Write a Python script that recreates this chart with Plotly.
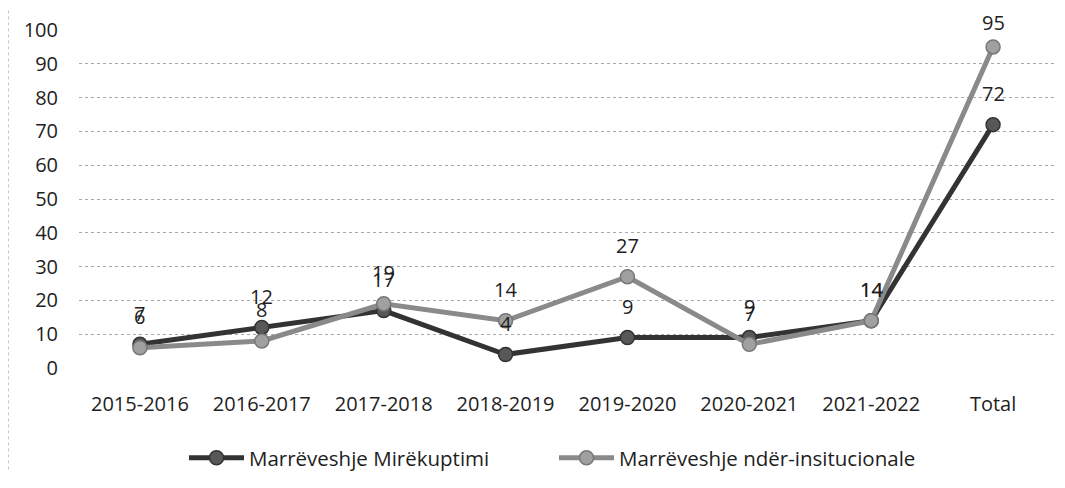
import plotly.graph_objects as go

categories = ["2015-2016", "2016-2017", "2017-2018", "2018-2019", "2019-2020", "2020-2021", "2021-2022", "Total"]
mirekuptimi = [7, 12, 17, 4, 9, 9, 14, 72]
nderinst = [6, 8, 19, 14, 27, 7, 14, 95]
y_ticks = [0, 10, 20, 30, 40, 50, 60, 70, 80, 90, 100]

FONT = "Open Sans"
TXT = "#1e1e1e"
dark = "#333333"
gray = "#8a8a8a"

# page has an 8px body margin: figure is drawn at (8, 8)
W, H = 1049, 472

fig = go.Figure()
fig.add_trace(go.Scatter(
    x=categories, y=mirekuptimi, name="Marrëveshje Mirëkuptimi",
    mode="lines+markers",
    line=dict(color=dark, width=5),
    marker=dict(size=14, color="#585858", line=dict(color=dark, width=1.5)),
))
fig.add_trace(go.Scatter(
    x=categories, y=nderinst, name="Marrëveshje ndër-insitucionale",
    mode="lines+markers",
    line=dict(color=gray, width=5),
    marker=dict(size=14, color="#a0a0a0", line=dict(color="#777777", width=1.5)),
))

annotations = []
for series in (mirekuptimi, nderinst):
    for c, v in zip(categories, series):
        shift = 31 if v < 90 else 24  # keep the top label inside the page
        annotations.append(dict(x=c, y=v, text=str(v), showarrow=False,
                                yshift=shift, font=dict(family=FONT, size=20, color=TXT)))

fig.update_layout(
    width=W, height=H,
    paper_bgcolor="white", plot_bgcolor="white",
    margin=dict(l=71, r=3, t=22, b=112),
    font=dict(family=FONT, size=20, color=TXT),
    showlegend=True,
    legend=dict(orientation="h", x=176 / W, xref="container", xanchor="left",
                y=22 / H, yref="container", yanchor="middle",
                font=dict(family=FONT, size=20.5, color=TXT),
                itemwidth=55, entrywidth=300, entrywidthmode="pixels"),
    annotations=annotations,
    shapes=[dict(type="line", xref="paper", yref="paper", x0=-70.5 / 975, x1=-70.5 / 975,
                 y0=-0.3, y1=1.06, line=dict(color="#c8c8c8", width=1, dash="dot"))],
    xaxis=dict(type="category", categoryorder="array", categoryarray=categories,
               showgrid=False, zeroline=False, showline=False, ticks="",
               tickfont=dict(family=FONT, size=20, color=TXT),
               range=[-0.5, 7.5], automargin=False, ticklabelstandoff=22),
    yaxis=dict(range=[0, 100], tickvals=y_ticks, showgrid=True,
               gridcolor="#a8a8a8", griddash="dot", gridwidth=1,
               zeroline=False, showline=False, ticks="",
               tickfont=dict(family=FONT, size=20, color=TXT),
               ticklabelstandoff=20, automargin=False),
)

fig.write_html("out.html")
